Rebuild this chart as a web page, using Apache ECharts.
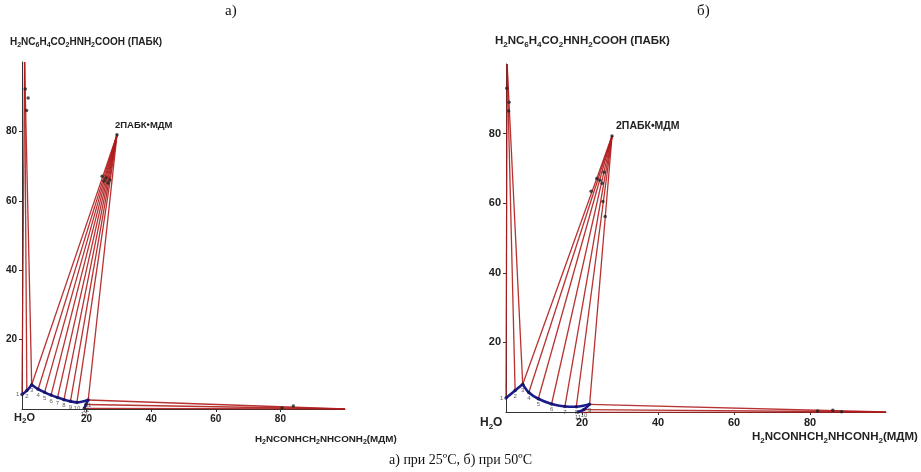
<!DOCTYPE html>
<html><head><meta charset="utf-8">
<script src="https://cdn.jsdelivr.net/npm/echarts@6/dist/echarts.min.js"></script>
<style>html,body{margin:0;padding:0;background:#fff}#c{width:921px;height:472px}</style>
</head><body><div id="c"></div>
<script>
// ---- data (x = % МДМ, y = % ПАБК) ----
const tickValues = [20, 40, 60, 80];

// а) 25 °C  liquid-phase (solution) points 1..13
const liquidA = [[0,4.2],[1.5,5.3],[3.0,7.0],[5.0,5.7],[7.0,4.8],[9.0,4.0],[11.0,3.3],[13.0,2.7],[15.0,2.2],[17.0,1.9],[20.5,2.6],[19.8,1.3],[19.3,0.2]];
const numbersA = ['1','2','3','4','5','6','7','8','9','10','11','12','13'];
const pabkA = [0.8, 100];
const compA = [29.4, 79];
const mdmA = [100, 0];
const tieA_pabk = [0, 1, 2];
const tieA_comp = [2, 3, 4, 5, 6, 7, 8, 9, 10];
const tieA_mdm = [10, 11, 12];
const residuesA = [[1.0,92.2],[1.9,89.6],[1.4,86.0],[24.8,67.1],[25.4,65.7],[26.6,65.1],[27.2,66.0],[26.0,66.6],[80.5,0.3],[84.0,0.9]];

// б) 50 °C  liquid-phase points 1..11
const liquidB = [[0,4.0],[2.4,6.2],[4.4,8.0],[6.0,5.6],[8.5,3.8],[12.0,2.3],[15.5,1.6],[18.5,1.5],[22.0,2.2],[20.5,0.7],[19.0,0.0]];
const numbersB = ['1','2','3','4','5','6','7','8','9','10','11'];
const pabkB = [0.3, 100];
const compB = [27.9, 79.3];
const mdmB = [100, 0];
const tieB_pabk = [0, 1, 2];
const tieB_comp = [2, 3, 4, 5, 6, 7, 8];
const tieB_mdm = [8, 9, 10];
const residuesB = [[0.2,93.0],[0.8,89.0],[0.7,86.5],[25.8,68.9],[23.9,67.1],[24.7,66.6],[25.3,65.7],[22.4,63.4],[25.5,60.5],[26.1,56.2],[82.0,0.3],[86.0,0.5],[88.3,0.1]];

// ---- chart ----
const chart = echarts.init(document.getElementById('c'), null, {renderer: 'canvas'});
const FONT = 'Liberation Sans, Arial, DejaVu Sans, sans-serif';
const RED = '#b01c1c';
const BLUE = '#1b1b8f';

function axisX(gi, fs) {
  return {type:'value', gridIndex:gi, min:0, max:100, interval:20,
    axisLine:{show:true, onZero:false, lineStyle:{color:'#333', width:1}},
    axisTick:{show:true, length:3, customValues:tickValues, lineStyle:{color:'#333'}},
    axisLabel:{customValues:tickValues, color:'#222', fontWeight:'bold', fontSize:fs, fontFamily:FONT, margin:5},
    splitLine:{show:false}};
}
function axisY(gi, fs) {
  return {type:'value', gridIndex:gi, min:0, max:100, interval:20,
    axisLine:{show:true, onZero:false, lineStyle:{color:'#333', width:1}},
    axisTick:{show:true, length:3, customValues:tickValues, lineStyle:{color:'#333'}},
    axisLabel:{customValues:tickValues, color:'#222', fontWeight:'bold', fontSize:fs, fontFamily:FONT, margin:5},
    splitLine:{show:false}};
}
function ties(pts, idx, apex) { return idx.map(i => ({coords:[pts[i], apex]})); }
function tieSeries(gi, data) {
  return {type:'lines', coordinateSystem:'cartesian2d', xAxisIndex:gi, yAxisIndex:gi, silent:true,
    data:data, lineStyle:{color:RED, width:1.3, opacity:0.9, curveness:0}, z:2};
}
function curve(gi, pts) {
  return {type:'line', xAxisIndex:gi, yAxisIndex:gi, data:pts, smooth:0.35, symbol:'none',
    lineStyle:{color:BLUE, width:2.6}, silent:true, z:3};
}
function numbered(gi, pts, names) {
  return {type:'scatter', xAxisIndex:gi, yAxisIndex:gi, silent:true, z:4,
    data: pts.map((p,i) => ({value:p, name:names[i],
      label:{position: i===0 ? 'left' : 'bottom', distance: 1}})),
    symbolSize:3.5, itemStyle:{color:'#14145a'},
    label:{show:true, formatter:'{b}', fontSize:6, color:'#333', fontFamily:FONT}};
}
function dots(gi, pts) {
  return {type:'scatter', xAxisIndex:gi, yAxisIndex:gi, data:pts, symbolSize:3.5,
    itemStyle:{color:'#222'}, silent:true, z:5};
}
// chemical formula -> rich text with subscripts (digits after "_")
function chem(str) {
  return '{n|' + str.replace(/_(\d)/g, '}{s|$1}{n|') + '}';
}
function chemText(left, top, str, fs) {
  return {type:'text', left:left, top:top, style:{text:chem(str), fill:'#222',
    rich:{n:{fontSize:fs, fontWeight:'bold', fontFamily:FONT, lineHeight:fs+4, verticalAlign:'middle', fill:'#222'},
          s:{fontSize:Math.round(fs*0.7), fontWeight:'bold', fontFamily:FONT, lineHeight:fs+2, verticalAlign:'bottom', fill:'#222'}}}};
}

const option = {
  animation:false,
  backgroundColor:'#fff',
  grid:[{left:22, top:62, width:323, height:347}, {left:506, top:64, width:380, height:348}],
  xAxis:[axisX(0,10), axisX(1,11)],
  yAxis:[axisY(0,10), axisY(1,11)],
  series:[
    tieSeries(0, ties(liquidA, tieA_pabk, pabkA)),
    tieSeries(0, ties(liquidA, tieA_comp, compA)),
    tieSeries(0, ties(liquidA, tieA_mdm, mdmA)),
    curve(0, liquidA.slice(0,3)),
    curve(0, liquidA.slice(2,11)),
    curve(0, liquidA.slice(10,13)),
    numbered(0, liquidA, numbersA),
    dots(0, residuesA.concat([compA])),
    tieSeries(1, ties(liquidB, tieB_pabk, pabkB)),
    tieSeries(1, ties(liquidB, tieB_comp, compB)),
    tieSeries(1, ties(liquidB, tieB_mdm, mdmB)),
    curve(1, liquidB.slice(0,3)),
    curve(1, liquidB.slice(2,9)),
    curve(1, liquidB.slice(8,11)),
    numbered(1, liquidB, numbersB),
    dots(1, residuesB.concat([compB]))
  ],
  graphic:[
    {type:'text', left:225, top:4, style:{text:'а)', font:'15px Liberation Serif, serif', fill:'#111'}},
    {type:'text', left:697, top:4, style:{text:'б)', font:'15px Liberation Serif, serif', fill:'#111'}},
    chemText(10, 37, 'H_2NC_6H_4CO_2HNH_2COOH (ПАБК)', 10),
    chemText(495, 35, 'H_2NC_6H_4CO_2HNH_2COOH (ПАБК)', 11.5),
    {type:'text', left:115, top:120, style:{text:'2ПАБК•МДМ', font:'bold 9.5px '+FONT, fill:'#222'}},
    {type:'text', left:616, top:121, style:{text:'2ПАБК•МДМ', font:'bold 10.5px '+FONT, fill:'#222'}},
    chemText(14, 412, 'H_2O', 11),
    chemText(480, 417, 'H_2O', 12),
    chemText(255, 434, 'H_2NCONHCH_2NHCONH_2(МДМ)', 9.8),
    chemText(752, 431, 'H_2NCONHCH_2NHCONH_2(МДМ)', 11.5),
    {type:'text', left:'center', top:453, style:{text:'а) при 25ºC, б) при 50ºC', font:'14px Liberation Serif, serif', fill:'#111'}}
  ]
};
chart.setOption(option);
</script>
</body></html>
